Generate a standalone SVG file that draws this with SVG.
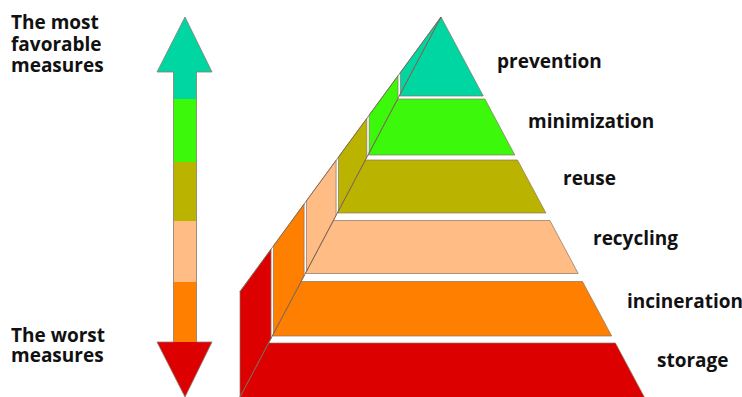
<svg xmlns="http://www.w3.org/2000/svg" width="742" height="397" viewBox="0 0 742 397">
  <style>
    .lbl { font-family: "Open Sans", "Liberation Sans", sans-serif; font-weight: 700; font-size: 19px; fill: #111; }
    .edge { stroke: #8a7264; stroke-width: 0.7; stroke-linejoin: round; }
    .teal { fill: #00D6A2; }
    .green { fill: #3CF80A; }
    .olive { fill: #BAB400; }
    .peach { fill: #FFBC84; }
    .orange { fill: #FF8000; }
    .red { fill: #DD0000; }
  </style>
  <rect width="742" height="397" fill="#fff"/>

  <!-- Double-headed scale arrow -->
  <g id="scale-arrow">
    <rect class="teal" x="173.5" y="71" width="23" height="28"/>
    <rect class="green" x="173.5" y="99" width="23" height="63"/>
    <rect class="olive" x="173.5" y="162" width="23" height="59"/>
    <rect class="peach" x="173.5" y="221" width="23" height="61"/>
    <rect class="orange" x="173.5" y="282" width="23" height="61"/>
    <polygon class="teal" points="185,17 212,72 157,72"/>
    <polygon class="red" points="157,342 212,342 185,397"/>
    <path d="M185,17 L212,72 L196.5,72 L196.5,342 L212,342 L185,397 L157,342 L173.5,342 L173.5,72 L157,72 Z" fill="none" stroke="#8a7a70" stroke-width="0.8"/>
  </g>

  <g id="label-favorable">
    <text class="lbl" x="11" y="29">The most</text>
    <text class="lbl" x="11" y="51">favorable</text>
    <text class="lbl" x="11" y="72">measures</text>
  </g>
  <g id="label-worst">
    <text class="lbl" x="11" y="342">The worst</text>
    <text class="lbl" x="11" y="362">measures</text>
  </g>

  <!-- Pyramid levels: front band + left side piece -->
  <g id="level-prevention">
    <polygon class="teal edge" points="441,17 483.3,96 399.2,96"/>
    <polygon class="teal edge" points="441,17 400.4,72.5 400.4,93.7"/>
    <text class="lbl" x="497" y="68">prevention</text>
  </g>
  <g id="level-minimization">
    <polygon class="green edge" points="397.6,99 484.9,99 514.8,155 368,155"/>
    <polygon class="green edge" points="398,75.7 398,98.3 369.2,152.7 369.2,115.1"/>
    <text class="lbl" x="528" y="128">minimization</text>
  </g>
  <g id="level-reuse">
    <polygon class="olive edge" points="365.35,160 517.5,160 545.9,213 337.3,213"/>
    <polygon class="olive edge" points="366.8,118.4 366.8,157.3 338.5,210.8 338.5,157"/>
    <text class="lbl" x="563" y="185">reuse</text>
  </g>
  <g id="level-recycling">
    <polygon class="peach edge" points="333.35,220.5 549.9,220.5 578.2,273.5 305.3,273.5"/>
    <polygon class="peach edge" points="336.1,160.3 336.1,215.3 306.5,271.3 306.5,200.7"/>
    <text class="lbl" x="593" y="245">recycling</text>
  </g>
  <g id="level-incineration">
    <polygon class="orange edge" points="301.1,281.5 582.5,281.5 611.7,336 272.25,336"/>
    <polygon class="orange edge" points="304.1,204 304.1,275.8 273.45,333.7 273.45,245.9"/>
    <text class="lbl" x="627" y="308">incineration</text>
  </g>
  <g id="level-storage">
    <polygon class="red edge" points="268.55,343 615.4,343 644.8,398 239.5,398"/>
    <polygon class="red edge" points="271.05,249.2 271.05,338.3 240,397 240,291.6"/>
    <text class="lbl" x="657" y="367">storage</text>
  </g>

  <!-- Pyramid outline edges -->
  <g id="connectors" fill="none" stroke="#7a5f52" stroke-width="0.8">
    <line x1="441" y1="17" x2="240" y2="397"/>
    <line x1="441" y1="17" x2="240" y2="291.6"/>
  </g>
</svg>
